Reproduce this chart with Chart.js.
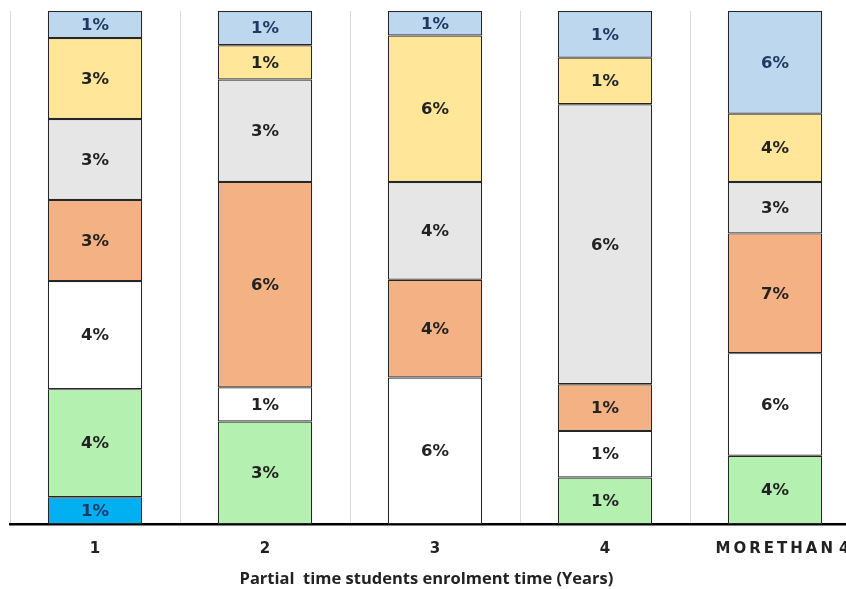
<!DOCTYPE html>
<html lang="en">
<head>
  <meta charset="UTF-8" />
  <title>Partial time students enrolment time</title>
  <script src="https://cdn.jsdelivr.net/npm/chart.js"></script>
  <style>
    body { margin: 0; background: #fff; overflow: hidden; }
  </style>
</head>
<body>
  <canvas id="chart" width="870" height="589"></canvas>

  <script>
    // categories (years) and the percentage labels of each stacked segment, bottom to top
    const years = ['1', '2', '3', '4', '\u2002\u2002M\u2009O\u2009R\u2009E\u2009T\u2009H\u2009A\u2009N\u2009\u20094'];
    const darkBlue  = [1, 0, 0, 0, 0];
    const green     = [4, 3, 0, 1, 4];
    const white     = [4, 1, 6, 1, 6];
    const orange    = [3, 6, 4, 1, 7];
    const gray      = [3, 3, 4, 6, 3];
    const yellow    = [3, 1, 6, 1, 4];
    const lightBlue = [1, 1, 1, 1, 6];

    const series = [
      { vals: darkBlue,  color: '#00B0F0', text: '#1F3864' },
      { vals: green,     color: '#B4F1B0', text: '#222' },
      { vals: white,     color: '#FFFFFF', text: '#222' },
      { vals: orange,    color: '#F4B183', text: '#222' },
      { vals: gray,      color: '#E7E6E6', text: '#222' },
      { vals: yellow,    color: '#FFE699', text: '#222' },
      { vals: lightBlue, color: '#BDD7EE', text: '#1F3864' }
    ];

    // each column is shown as 100%
    const totals = years.map((_, i) => series.reduce((s, d) => s + d.vals[i], 0));

    const segLabels = {
      id: 'segLabels',
      afterDatasetsDraw(chart) {
        const ctx = chart.ctx;
        ctx.save();
        ctx.font = 'bold 16.5px "DejaVu Sans"';
        ctx.textAlign = 'center';
        ctx.textBaseline = 'middle';
        chart.data.datasets.forEach((ds, di) => {
          chart.getDatasetMeta(di).data.forEach((bar, i) => {
            const v = ds.raw[i];
            if (!v) return;
            const p = bar.getProps(['x', 'y', 'base'], true);
            ctx.fillStyle = ds.textColor;
            ctx.fillText(v + '%', p.x, (p.y + p.base) / 2 + 1);
          });
        });
        ctx.restore();
      }
    };

    new Chart(document.getElementById('chart'), {
      type: 'bar',
      data: {
        labels: years,
        datasets: series.map(s => ({
          raw: s.vals,
          textColor: s.text,
          data: s.vals.map((v, i) => v ? v / totals[i] * 100 : null),
          backgroundColor: s.color,
          borderColor: '#262626',
          borderWidth: 1.2,
          borderSkipped: false,
          barPercentage: 1,
          categoryPercentage: 0.555
        }))
      },
      options: {
        responsive: false,
        animation: false,
        layout: { padding: { left: 10, right: 10, top: 11, bottom: 0 } },
        plugins: { legend: { display: false }, tooltip: { enabled: false } },
        scales: {
          x: {
            stacked: true,
            grid: { offset: true, color: '#D9D9D9', lineWidth: 1, drawTicks: false },
            border: { color: '#000', width: 2.5 },
            ticks: {
              color: '#222',
              padding: 16,
              font: { family: '"DejaVu Sans"', size: 15, weight: 'bold' }
            },
            title: {
              display: true,
              text: 'Partial  time students enrolment time (Years)    ',
              color: '#222',
              padding: { top: -5, bottom: 0 },
              font: { family: '"Open Sans"', size: 16.5, weight: 'bold' }
            }
          },
          y: {
            stacked: true,
            display: false,
            min: 0,
            max: 100
          }
        }
      },
      plugins: [segLabels]
    });
  </script>
</body>
</html>
